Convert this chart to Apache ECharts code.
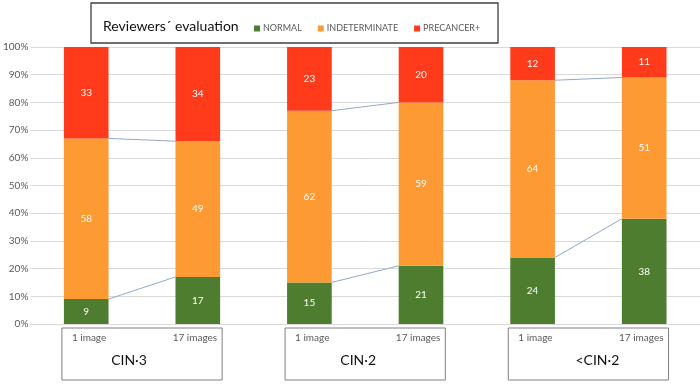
<!DOCTYPE html>
<html><head><meta charset="utf-8">
<script src="https://cdn.jsdelivr.net/npm/echarts@6/dist/echarts.min.js"></script>
<style>html,body{margin:0;padding:0;background:#fff}#c{width:700px;height:384px}</style>
</head><body><div id="c"></div>
<script>
const categories = ['1 image','17 images','1 image','17 images','1 image','17 images'];
const groups = ['CIN·3','CIN·2','<CIN·2'];
const normal = [9,17,15,21,24,38];
const indeterminate = [58,49,62,59,64,51];
const precancer = [33,34,23,20,12,11];
const yTicks = [0,10,20,30,40,50,60,70,80,90,100];

const chart = echarts.init(document.getElementById('c'));
const FONT = 'Lato, "Open Sans", sans-serif';
const barFrac = 0.4;

// connector line data: [startIdx, cumulative value start, cumulative value end]
const connectors = [];
for (let g = 0; g < groups.length; g++) {
  const a = g*2, b = g*2+1;
  connectors.push([a, normal[a], normal[b]]);
  connectors.push([a, normal[a]+indeterminate[a], normal[b]+indeterminate[b]]);
}

const labelCfg = {show:true, color:'#fff', fontSize:10, fontFamily:FONT};

chart.setOption({
  animation:false,
  textStyle:{fontFamily:FONT},
  grid:{left:28, right:0, top:47, bottom:60, containLabel:false},
  legend:{
    data:['NORMAL','INDETERMINATE','PRECANCER+'],
    left:249, top:19, icon:'rect', itemWidth:6, itemHeight:6, itemGap:16,
    textStyle:{fontSize:9, color:'#595959', fontFamily:FONT, padding:[0,0,0,-2]}
  },
  xAxis:{type:'category', data:categories, axisLine:{show:false}, axisTick:{show:false}, axisLabel:{show:false}},
  yAxis:{type:'value', min:0, max:100, interval:10,
    axisLabel:{formatter:v=>v+'%', fontSize:10, color:'#595959', margin:2, fontFamily:FONT},
    splitLine:{lineStyle:{color:'#d9d9d9'}}},
  series:[
    {name:'NORMAL', type:'bar', stack:'s', data:normal, barWidth:(barFrac*100)+'%', itemStyle:{color:'#4e7d2f'}, label:labelCfg},
    {name:'INDETERMINATE', type:'bar', stack:'s', data:indeterminate, itemStyle:{color:'#fd9a34'}, label:labelCfg},
    {name:'PRECANCER+', type:'bar', stack:'s', data:precancer, itemStyle:{color:'#ff3b1c'}, label:labelCfg},
    {type:'custom', data:connectors, z:1, silent:true,
      renderItem:function(params, api){
        const i = api.value(0);
        const p1 = api.coord([i, api.value(1)]);
        const p2 = api.coord([i+1, api.value(2)]);
        const hw = api.size([1,0])[0]*barFrac/2;
        return {type:'line', shape:{x1:p1[0]+hw, y1:p1[1], x2:p2[0]-hw, y2:p2[1]},
          style:{stroke:'#8fa9c9', lineWidth:1}};
      }}
  ]
});

// annotation boxes derived from axis positions
const graphics = [];
graphics.push({type:'rect', shape:{x:91, y:3, width:407, height:40}, style:{fill:'#fff', stroke:'#404040', lineWidth:1.3}, z:-1});
graphics.push({type:'text', x:103, y:26, style:{text:'Reviewers´ evaluation', fontSize:14, fill:'#111', fontFamily:FONT, verticalAlign:'middle'}});
const labelOffsets = [-13,-7,9];
for (let g = 0; g < groups.length; g++) {
  const c1 = chart.convertToPixel({xAxisIndex:0}, g*2);
  const c2 = chart.convertToPixel({xAxisIndex:0}, g*2+1);
  const bw = (c2-c1)*barFrac/2;
  const L = c1 - bw - 2, R = c2 + bw + 2;
  graphics.push({type:'rect', shape:{x:L, y:328, width:R-L, height:52}, style:{fill:'#fff', stroke:'#808080', lineWidth:1}});
  graphics.push({type:'text', x:L+10, y:338, style:{text:categories[g*2], fontSize:10, fill:'#595959', fontFamily:FONT, verticalAlign:'middle'}});
  graphics.push({type:'text', x:R-5, y:338, style:{text:categories[g*2+1], fontSize:10, fill:'#595959', fontFamily:FONT, align:'right', verticalAlign:'middle'}});
  graphics.push({type:'text', x:(L+R)/2+labelOffsets[g], y:360, style:{text:groups[g], fontSize:14, fill:'#111', fontFamily:FONT, align:'center', verticalAlign:'middle'}});
}
chart.setOption({graphic:graphics});
</script></body></html>
